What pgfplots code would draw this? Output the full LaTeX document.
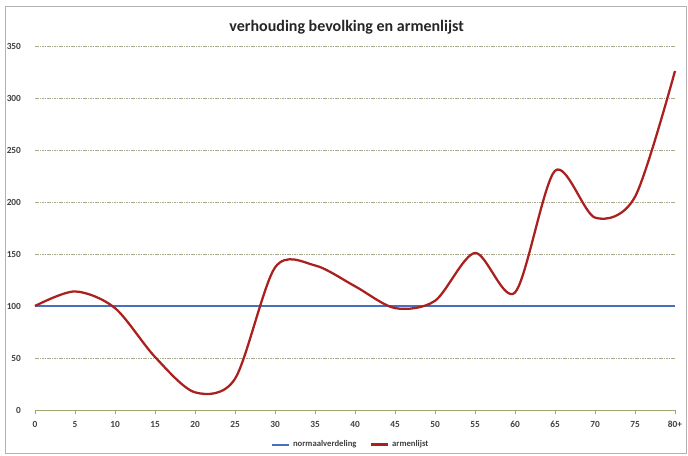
\documentclass[border=0pt]{standalone}
\usepackage{pgfplots}
\pgfplotsset{compat=1.18}
\usepackage{fontspec}
\setmainfont{Carlito}
\definecolor{redline}{RGB}{170,32,30}
\definecolor{blueline}{RGB}{72,110,190}
\definecolor{gridc}{RGB}{170,170,140}
\definecolor{axisc}{RGB}{160,165,110}
\begin{document}
\begin{tikzpicture}
\path[use as bounding box] (0,0) rectangle (516pt,341.25pt);
\draw[gray!60, line width=0.6pt] (3.75pt,1pt) rectangle (515pt,336.75pt);
\node[font=\fontsize{12}{14}\selectfont\bfseries, text=black!85] at (260pt,320.5pt) {verhouding bevolking en armenlijst};
\begin{axis}[
  scale only axis,
  width=480pt, height=273pt,
  at={(26.25pt,33.75pt)}, anchor=south west,
  xmin=0, xmax=16, ymin=0, ymax=350,
  xtick={0,...,16},
  xticklabels={0,5,10,15,20,25,30,35,40,45,50,55,60,65,70,75,80+},
  ytick={0,50,...,350},
  axis y line*=left, y axis line style={draw=none},
  axis x line*=bottom,
  x axis line style={draw=axisc, line width=0.6pt},
  xtick style={draw=axisc, line width=0.5pt},
  major tick length=3pt,
  tick align=outside,
  ytick style={draw=none},
  ymajorgrids,
  grid style={gridc, dash pattern=on 1.2pt off 0.6pt, line width=0.5pt},
  ticklabel style={font=\fontsize{7}{8}\selectfont\bfseries, text=black!75},
  /pgf/number format/assume math mode=true,
  yticklabel style={xshift=-4pt},
  xticklabel style={yshift=-2pt},
  legend columns=2,
  legend style={at={(0.494,-0.095)}, anchor=center, draw=none, fill=none,
    font=\fontsize{6.5}{7}\selectfont\bfseries, text=black!75,
    /tikz/every even column/.append style={column sep=8pt}},
  legend image code/.code={\draw[#1] (0pt,0pt) -- (13pt,0pt);},
  clip=false,
]
\addplot[blueline, line width=1.4pt] coordinates {
(0,100) (1,100) (2,100) (3,100) (4,100) (5,100) (6,100) (7,100) (8,100)
(9,100) (10,100) (11,100) (12,100) (13,100) (14,100) (15,100) (16,100)};
\addlegendentry{normaalverdeling}
\addplot[redline, line width=1.7pt, smooth, tension=0.5] coordinates {
(0,100) (1,114) (2,98) (3,51) (4,17) (5,30) (6,137) (7,139) (8,119)
(9,98) (10,105) (11,151) (12,113) (13,230) (14,185) (15,205) (16,326)};
\addlegendentry{armenlijst}
\end{axis}
\end{tikzpicture}
\end{document}
